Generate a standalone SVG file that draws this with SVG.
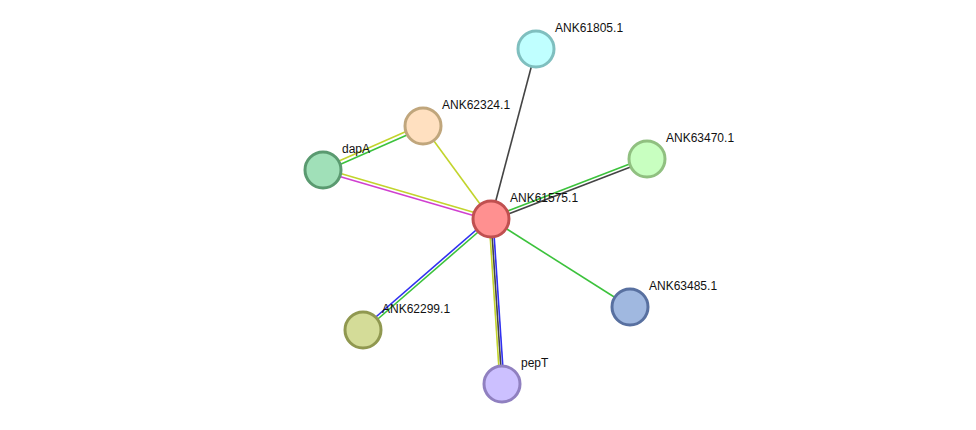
<svg xmlns="http://www.w3.org/2000/svg" width="976" height="430" viewBox="0 0 976 430">
<style>
.e{stroke-width:1.6;fill:none}
.y{stroke:#c2d42c}.g{stroke:#3cc23c}.b{stroke:#3030f0}.m{stroke:#d040d0}.k{stroke:#444}
.n{stroke-width:3}
text{font-family:"Liberation Sans",Arial,sans-serif;font-size:12px;fill:#111}
</style>
<rect width="976" height="430" fill="#fff"/>
<g id="edges">
<line class="e k" x1="491" y1="219" x2="536" y2="49"/>
<line class="e y" x1="491" y1="219" x2="423" y2="126"/>
<line class="e y" x1="322.5" y1="168.3" x2="422.5" y2="124.3"/>
<line class="e g" x1="323.5" y1="171.7" x2="423.5" y2="127.7"/>
<line class="e y" x1="323.5" y1="168.5" x2="491.5" y2="217.5"/>
<line class="e m" x1="322.5" y1="171.5" x2="490.5" y2="220.5"/>
<line class="e g" x1="490.5" y1="217.5" x2="646.5" y2="157.5"/>
<line class="e k" x1="491.5" y1="220.5" x2="647.5" y2="160.5"/>
<line class="e g" x1="491" y1="219" x2="630" y2="307"/>
<line class="e b" x1="490" y1="218" x2="362" y2="329"/>
<line class="e g" x1="492" y1="220" x2="364" y2="331"/>
<line class="e y" x1="489" y1="219" x2="500" y2="384"/>
<line class="e k" x1="491" y1="219" x2="502" y2="384"/>
<line class="e b" x1="493" y1="219" x2="504" y2="384"/>
</g>
<g id="ANK61805.1"><circle class="n" cx="536" cy="49" r="18" fill="#c0ffff" stroke="#7fbfbf"/><text x="555" y="32">ANK61805.1</text></g>
<g id="ANK62324.1"><circle class="n" cx="423" cy="126" r="18" fill="#ffe0c0" stroke="#c0a67c"/><text x="442" y="109">ANK62324.1</text></g>
<g id="dapA"><circle class="n" cx="323" cy="170" r="18" fill="#a0e0b8" stroke="#5a9a70"/><text x="342" y="153">dapA</text></g>
<g id="ANK63470.1"><circle class="n" cx="647" cy="159" r="18" fill="#c8ffc0" stroke="#90c080"/><text x="666" y="142">ANK63470.1</text></g>
<g id="ANK63485.1"><circle class="n" cx="630" cy="307" r="18" fill="#a0b8e0" stroke="#5870a0"/><text x="649" y="290">ANK63485.1</text></g>
<g id="ANK62299.1"><circle class="n" cx="363" cy="330" r="18" fill="#d4dc98" stroke="#909850"/><text x="382" y="313">ANK62299.1</text></g>
<g id="pepT"><circle class="n" cx="502" cy="384" r="18" fill="#ccc0ff" stroke="#9080c0"/><text x="521" y="367">pepT</text></g>
<g id="ANK61575.1"><circle class="n" cx="491" cy="219" r="18" fill="#ff9090" stroke="#c05050"/><text x="510" y="202">ANK61575.1</text></g>
</svg>
